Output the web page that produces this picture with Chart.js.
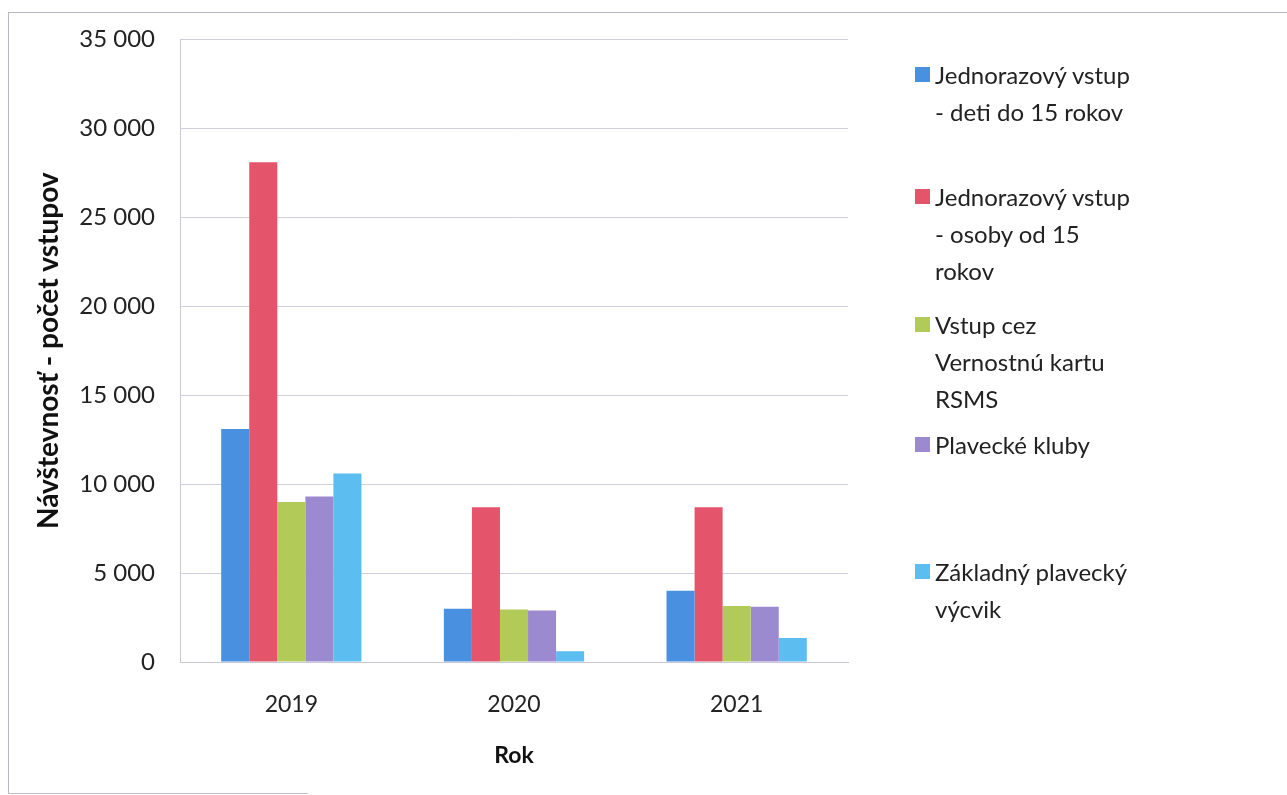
<!DOCTYPE html>
<html>
<head>
<meta charset="utf-8">
<script src="https://cdn.jsdelivr.net/npm/chart.js@4.4.1/dist/chart.umd.min.js"></script>
<style>
  body { margin: 0; background: #fff; font-family: Lato, sans-serif; }
  #wrap { position: relative; width: 1287px; height: 795px; overflow: hidden; }
  #frame { position: absolute; left: 8px; top: 12px; width: 1290px; height: 781px;
           border-top: 1px solid #b8b8c8; border-left: 1px solid #b8b8c8; }
  #bottomline { position: absolute; left: 8px; top: 793px; width: 300px; border-top: 1px solid #c0c0cc; }
  canvas { position: absolute; left: 0; top: 0; }
  #legend { position: absolute; left: 0; top: 0; }
  .item { position: absolute; left: 915px; color: #222; font-size: 24px; line-height: 37px; }
  .item .box { position: absolute; left: 0; top: 11px; width: 15px; height: 15px; }
  .item .txt { margin-left: 20px; white-space: nowrap; }
</style>
</head>
<body>
<div id="wrap">
  <div id="frame"></div>
  <div id="bottomline"></div>
  <canvas id="myChart" width="1287" height="795"></canvas>
  <div id="legend"></div>
</div>
<script>
const years = ['2019', '2020', '2021']
const seriesNames = [
  ['Jednorazový vstup', '- deti do 15 rokov'],
  ['Jednorazový vstup', '- osoby od 15', 'rokov'],
  ['Vstup cez', 'Vernostnú kartu', 'RSMS'],
  ['Plavecké kluby'],
  ['Základný plavecký', 'výcvik']
]
const detiDo15 = [13100, 3000, 4000]
const osobyOd15 = [28100, 8700, 8700]
const vernostnaKarta = [9000, 2950, 3150]
const plaveckeKluby = [9300, 2900, 3100]
const zakladnyVycvik = [10600, 600, 1350]
const yTicks = [0, 5000, 10000, 15000, 20000, 25000, 30000, 35000]

const colors = ['#4a90e0', '#e4546a', '#b2cb58', '#9b8ad0', '#5cbdf0']
const legendTops = [56, 178, 306, 426, 553]
const values = [detiDo15, osobyOd15, vernostnaKarta, plaveckeKluby, zakladnyVycvik]

const datasets = values.map(function(v, i) {
  return {
    label: seriesNames[i].join(' '),
    data: v,
    backgroundColor: colors[i],
    borderWidth: 0,
    barPercentage: 1.0,
    categoryPercentage: 0.63
  }
})

function fmt(n) {
  return n >= 1000 ? Math.floor(n / 1000) + ' ' + String(n % 1000).padStart(3, '0') : String(n)
}

const ctx = document.getElementById('myChart')
const chart = new Chart(ctx, {
  type: 'bar',
  data: { labels: years, datasets: datasets },
  options: {
    responsive: false,
    animation: false,
    layout: { padding: { top: 39, right: 439, bottom: 10, left: 0 } },
    plugins: {
      legend: { display: false },
      tooltip: { enabled: false }
    },
    scales: {
      x: {
        grid: { display: false },
        border: { display: true, color: '#c8c8d6' },
        ticks: { color: '#222', font: { family: 'Lato', size: 23 }, padding: 21 },
        title: { display: true, text: 'Rok', color: '#111',
                 font: { family: 'Lato', size: 23, weight: 'bold' }, padding: { top: 0, bottom: 16 } },
        afterFit: function(scale) { scale.height = 123 }
      },
      y: {
        min: 0,
        max: 35000,
        afterBuildTicks: function(scale) { scale.ticks = yTicks.map(function(v) { return { value: v } }) },
        grid: { color: '#cfd0de', lineWidth: 1, drawTicks: false },
        border: { display: true, color: '#c8c8d6' },
        ticks: { color: '#222', font: { family: 'Lato', size: 24 }, padding: 25,
                 callback: function(v) { return fmt(v) } },
        title: { display: true, text: 'Návštevnosť - počet vstupov', color: '#111',
                 font: { family: 'Lato', size: 28, weight: 'bold' }, padding: { top: 32, bottom: 0 } },
        afterFit: function(scale) { scale.width = 180 }
      }
    }
  }
})

// legend with wrapped labels like the original
const legendEl = document.getElementById('legend')
chart.data.datasets.forEach(function(ds, i) {
  const item = document.createElement('div')
  item.className = 'item'
  item.style.top = legendTops[i] + 'px'
  const box = document.createElement('div')
  box.className = 'box'
  box.style.background = ds.backgroundColor
  const txt = document.createElement('div')
  txt.className = 'txt'
  txt.innerHTML = seriesNames[i].join('<br>')
  item.appendChild(box)
  item.appendChild(txt)
  legendEl.appendChild(item)
})
</script>
</body>
</html>
